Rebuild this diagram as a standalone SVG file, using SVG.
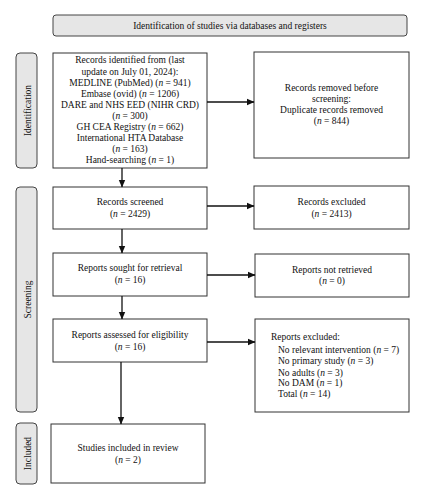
<svg xmlns="http://www.w3.org/2000/svg" width="425" height="500" viewBox="0 0 425 500">
<defs>
<marker id="ah" markerWidth="8" markerHeight="8" refX="7" refY="4" orient="auto" markerUnits="userSpaceOnUse">
<path d="M0,0.8 L7.5,4 L0,7.2 Z" fill="#111"/>
</marker>
<style>
.box{fill:#fff;stroke:#333;stroke-width:1}
.side{fill:#e6e6e6;stroke:#444;stroke-width:1}
text{font-family:"Liberation Serif","DejaVu Serif",serif;font-size:9.5px;fill:#111}
.c{text-anchor:middle}
.ln{stroke:#111;stroke-width:1.3;fill:none;marker-end:url(#ah)}
</style>
</defs>
<rect width="425" height="500" fill="#fff"/>
<g id="banner">
<rect class="side" x="53" y="15" width="354" height="21" rx="3"/>
<text class="c" x="230" y="28.5">Identification of studies via databases and registers</text>
</g>
<g id="side-identification">
<rect class="side" x="16" y="53" width="21" height="115" rx="4"/>
<text class="c" transform="translate(30.5,110.5) rotate(-90)">Identification</text>
</g>
<g id="side-screening">
<rect class="side" x="16" y="187" width="21" height="225" rx="4"/>
<text class="c" transform="translate(30.5,299.5) rotate(-90)">Screening</text>
</g>
<g id="side-included">
<rect class="side" x="16" y="423" width="21" height="61" rx="4"/>
<text class="c" transform="translate(30.5,453.5) rotate(-90)">Included</text>
</g>
<g id="identified">
<rect class="box" x="53" y="53" width="154" height="115"/>
<text class="c" x="130" y="63">Records identified from (last</text>
<text class="c" x="130" y="74.5">update on July 01, 2024):</text>
<text class="c" x="130" y="85.5">MEDLINE (PubMed) (<tspan font-style="italic">n</tspan> = 941)</text>
<text class="c" x="130" y="96.5">Embase (ovid) (<tspan font-style="italic">n</tspan> = 1206)</text>
<text class="c" x="130" y="107.5">DARE and NHS EED (NIHR CRD)</text>
<text class="c" x="130" y="118.5">(<tspan font-style="italic">n</tspan> = 300)</text>
<text class="c" x="130" y="129.5">GH CEA Registry (<tspan font-style="italic">n</tspan> = 662)</text>
<text class="c" x="130" y="140.5">International HTA Database</text>
<text class="c" x="130" y="151.5">(<tspan font-style="italic">n</tspan> = 163)</text>
<text class="c" x="130" y="162.5">Hand-searching (<tspan font-style="italic">n</tspan> = 1)</text>
</g>
<g id="removed">
<rect class="box" x="254" y="52" width="155" height="106"/>
<text class="c" x="331.5" y="91">Records removed before</text>
<text class="c" x="331.5" y="102">screening:</text>
<text class="c" x="331.5" y="113">Duplicate records removed</text>
<text class="c" x="331.5" y="124">(<tspan font-style="italic">n</tspan> = 844)</text>
</g>
<g id="screened">
<rect class="box" x="53" y="187" width="154" height="42"/>
<text class="c" x="130" y="205">Records screened</text>
<text class="c" x="130" y="216.5">(<tspan font-style="italic">n</tspan> = 2429)</text>
</g>
<g id="excluded">
<rect class="box" x="254" y="186" width="155" height="43"/>
<text class="c" x="331.5" y="205">Records excluded</text>
<text class="c" x="331.5" y="216.5">(<tspan font-style="italic">n</tspan> = 2413)</text>
</g>
<g id="sought">
<rect class="box" x="53" y="253" width="154" height="43"/>
<text class="c" x="130" y="271">Reports sought for retrieval</text>
<text class="c" x="130" y="282.5">(<tspan font-style="italic">n</tspan> = 16)</text>
</g>
<g id="notretrieved">
<rect class="box" x="255" y="254" width="154" height="43"/>
<text class="c" x="332" y="273">Reports not retrieved</text>
<text class="c" x="332" y="284">(<tspan font-style="italic">n</tspan> = 0)</text>
</g>
<g id="assessed">
<rect class="box" x="53" y="319" width="154" height="43"/>
<text class="c" x="130" y="338">Reports assessed for eligibility</text>
<text class="c" x="130" y="349.5">(<tspan font-style="italic">n</tspan> = 16)</text>
</g>
<g id="reportsexcluded">
<rect class="box" x="255" y="319" width="154" height="93"/>
<text x="271" y="340">Reports excluded:</text>
<text x="278" y="353">No relevant intervention (<tspan font-style="italic">n</tspan> = 7)</text>
<text x="278" y="364">No primary study (<tspan font-style="italic">n</tspan> = 3)</text>
<text x="278" y="375.5">No adults (<tspan font-style="italic">n</tspan> = 3)</text>
<text x="278" y="386">No DAM (<tspan font-style="italic">n</tspan> = 1)</text>
<text x="278" y="396.5">Total (<tspan font-style="italic">n</tspan> = 14)</text>
</g>
<g id="included">
<rect class="box" x="51" y="424" width="154" height="59"/>
<text class="c" x="128" y="451">Studies included in review</text>
<text class="c" x="128" y="462.5">(<tspan font-style="italic">n</tspan> = 2)</text>
</g>
<g id="connectors">
<line class="ln" x1="122" y1="168" x2="122" y2="187"/>
<line class="ln" x1="207" y1="102" x2="254" y2="102"/>
<line class="ln" x1="207" y1="206" x2="254" y2="206"/>
<line class="ln" x1="122" y1="229" x2="122" y2="253"/>
<line class="ln" x1="207" y1="275" x2="255" y2="275"/>
<line class="ln" x1="122" y1="296" x2="122" y2="319"/>
<line class="ln" x1="207" y1="342" x2="255" y2="342"/>
<line class="ln" x1="121" y1="362" x2="121" y2="424"/>
</g>
</svg>
